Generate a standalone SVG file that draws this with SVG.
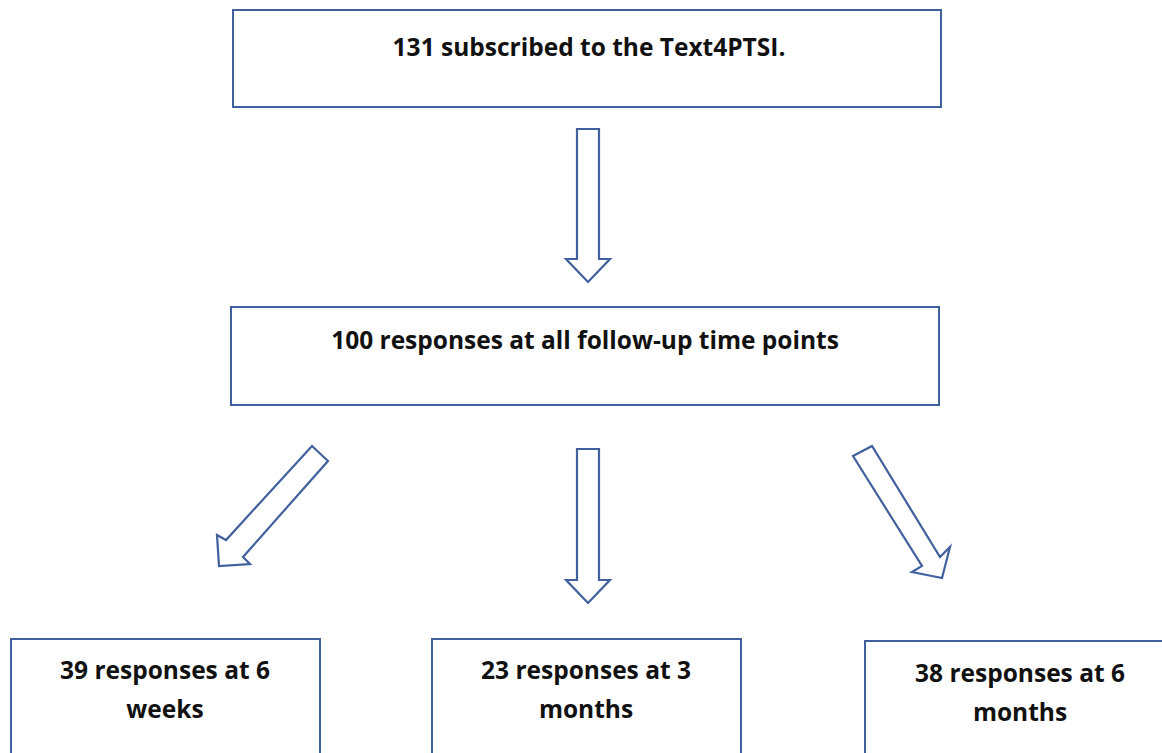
<svg xmlns="http://www.w3.org/2000/svg" width="1162" height="753" viewBox="0 0 1162 753">
  <style>
    .box { fill: #ffffff; stroke: #41609e; stroke-width: 2; }
    .arrow { fill: #ffffff; stroke: #41609e; stroke-width: 2.2; stroke-linejoin: miter; }
    .label { font-family: "Open Sans", Lato, sans-serif; font-weight: bold; font-size: 24.5px; fill: #111111; text-anchor: middle; }
  </style>
  <rect width="1162" height="753" fill="#ffffff"/>

  <g id="node-subscribed">
    <rect class="box" x="233" y="10" width="708" height="97"/>
    <text class="label" x="589" y="56">131 subscribed to the Text4PTSI.</text>
  </g>

  <g id="node-all-responses">
    <rect class="box" x="231" y="307" width="708" height="98"/>
    <text class="label" x="585" y="349">100 responses at all follow-up time points</text>
  </g>

  <g id="node-6-weeks">
    <rect class="box" x="11" y="639" width="309" height="130"/>
    <text class="label" x="165" y="679">39 responses at 6</text>
    <text class="label" x="165" y="718">weeks</text>
  </g>

  <g id="node-3-months">
    <rect class="box" x="432" y="639" width="309" height="130"/>
    <text class="label" x="586" y="679">23 responses at 3</text>
    <text class="label" x="586" y="718">months</text>
  </g>

  <g id="node-6-months">
    <rect class="box" x="865" y="641" width="309" height="130"/>
    <text class="label" x="1020" y="682">38 responses at 6</text>
    <text class="label" x="1020" y="721">months</text>
  </g>

  <g id="connectors">
    <polygon class="arrow" points="577,129 599,129 599,259 610,259 588,282 566,259 577,259"/>
    <polygon class="arrow" points="577,449 599,449 599,580 610,580 588,603 566,580 577,580"/>
    <polygon class="arrow" points="312,446 328,461 243,557 250,564 219,566 217,535 226,540"/>
    <polygon class="arrow" points="853,456 872,446 940,557 950,547 942,578 912,572 922,566"/>
  </g>
</svg>
